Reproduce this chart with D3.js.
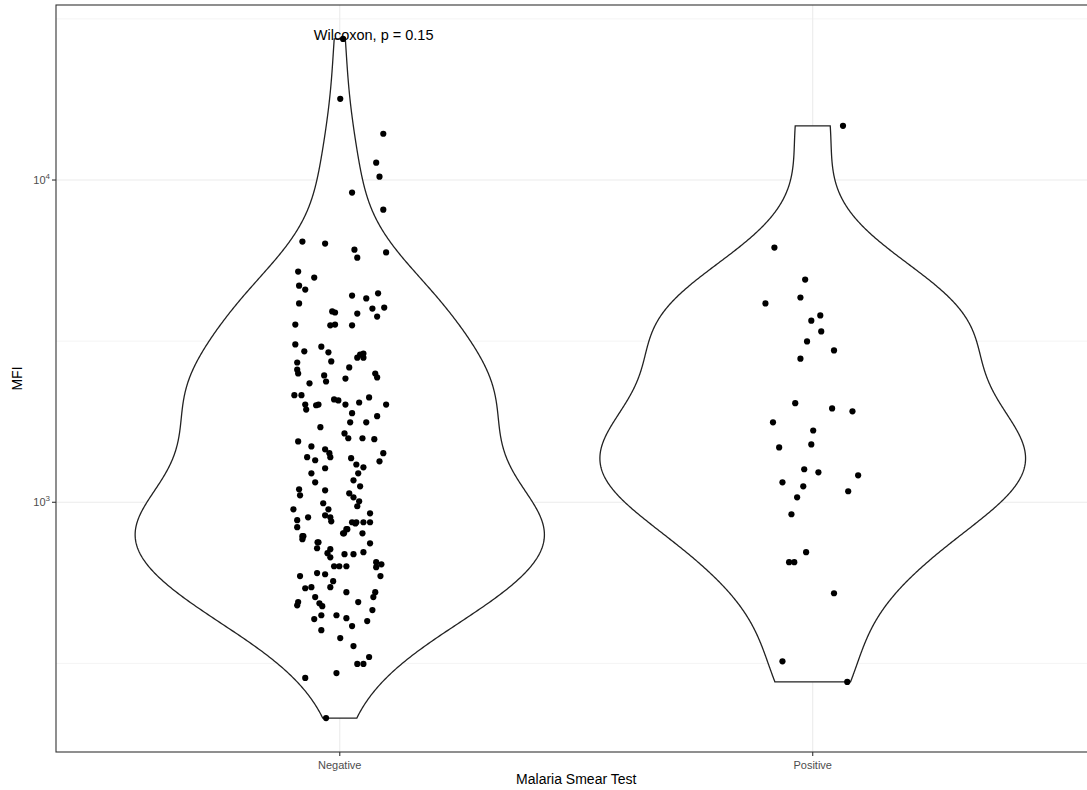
<!DOCTYPE html>
<html>
<head>
<meta charset="utf-8">
<script src="https://cdn.jsdelivr.net/npm/d3@7/dist/d3.min.js"></script>
<style>
  body { margin: 0; background: #fff; }
  svg text { font-family: "Liberation Sans", Arial, Helvetica, sans-serif; }
</style>
</head>
<body>
<svg id="chart" width="1087" height="790"></svg>
<script>
const groups = ["Negative", "Positive"];

// MFI; jitter is the horizontal offset in category units
// (the last few negatives sit on top of other dots in the dense 750-870 band)
const negativeMFI = [27400, 17860, 13920, 11320, 10240, 9140, 8090, 6440, 6350, 6080, 5740, 5960,
  5200, 4980, 4700, 4570, 4380, 4290, 4450, 4140, 3910, 3880, 3850, 3990, 4020, 3770, 3560, 3540,
  3560, 3540, 3090, 2940, 3040, 2920, 2735, 2715, 2580, 2510, 2810, 2870, 2895, 2810, 2620, 2475,
  2370, 2420, 2510, 2440, 2340, 2150, 2150, 2010, 1940, 2000, 2010, 2085, 2070, 2010, 2040, 2115,
  2010, 1890, 1850, 1770, 1770, 1710, 1636, 1580, 1580, 1570, 1545, 1490, 1460, 1420, 1380, 1380,
  1350, 1370, 1420, 1340, 1310, 1284, 1275, 1230, 1230, 1170, 1153, 1121, 1097, 1051, 1089, 1066,
  1036, 1007, 972, 993, 951, 951, 911, 898, 873, 898, 880, 837, 924, 867, 867, 867, 867, 825, 801,
  801, 785, 768, 746, 751, 720, 715, 695, 675, 690, 690, 700, 633, 633, 633, 652, 642, 629, 590,
  590, 603, 598, 569, 545, 541, 545, 526, 526, 508, 508, 486, 476, 490, 479, 490, 463, 446, 446,
  437, 434, 413, 428, 401, 379, 358, 331, 315, 315, 295, 285, 214,
  860, 801, 785, 751, 825];
const negativeJitter = [0.007, 0.001, 0.092, 0.077, 0.084, 0.026, 0.092, -0.079, -0.031, 0.031, 0.037, 0.098,
  -0.088, -0.054, -0.086, -0.073, 0.026, 0.056, 0.081, -0.086, -0.016, -0.010, 0.037, 0.069, 0.094, 0.079, -0.094, -0.020,
  -0.010, 0.026, -0.094, -0.075, -0.039, -0.024, -0.018, -0.090, -0.090, -0.088, 0.037, 0.043, 0.050, 0.050, 0.020, -0.033,
  -0.029, 0.012, 0.075, 0.079, -0.064, -0.096, -0.081, -0.073, -0.071, -0.050, -0.045, -0.012, -0.003, 0.012, 0.041, 0.062,
  0.098, 0.026, 0.079, 0.022, 0.056, -0.041, 0.010, 0.018, 0.048, 0.073, -0.088, -0.060, -0.031, -0.022, -0.020, -0.069,
  -0.052, 0.024, 0.092, 0.084, 0.035, 0.050, -0.031, 0.039, -0.060, 0.029, -0.052, 0.043, -0.086, -0.084, -0.031, 0.020,
  0.029, 0.041, 0.037, -0.035, -0.024, -0.098, -0.031, -0.020, -0.018, -0.067, -0.090, -0.090, 0.064, 0.026, 0.035, 0.050, 0.064, 0.014, 0.007,
  0.048, -0.079, -0.079, 0.064, -0.045, -0.048, -0.020, -0.026, -0.020, 0.010, 0.029, 0.050, -0.012, -0.001, 0.014, 0.077, 0.088, 0.077, 0.086,
  -0.084, -0.048, -0.031, -0.014, -0.020, -0.073, -0.060, 0.014, 0.075, 0.071, -0.052, -0.043, -0.037, -0.088, -0.090, 0.039, 0.069, -0.007, -0.039,
  0.014, -0.054, 0.026, 0.058, -0.039, 0.001, 0.029, 0.062, 0.037, 0.050, -0.007, -0.073, -0.029,
  0.033, 0.009, -0.077, -0.047, 0.016];

const positiveMFI = [14730, 6170, 4910, 4320, 4140, 3800, 3660, 3390, 3155, 2960, 2790, 2030, 1955,
  1915, 1770, 1670, 1480, 1512, 1266, 1239, 1212, 1153, 1121, 1082, 1036, 918, 700, 652, 652, 522, 321, 277];
const positiveJitter = [0.064, -0.081, -0.016, -0.026, -0.100, 0.016, -0.003, 0.018, -0.012, 0.045, -0.026, -0.037, 0.041,
  0.084, -0.084, 0.001, -0.071, -0.003, -0.018, 0.012, 0.096, -0.064, -0.020, 0.075, -0.033, -0.045, -0.014, -0.050, -0.039, 0.045, -0.064, 0.073];

const yMajorTicks = [3, 4];          // powers of ten
const yMinorTicks = [2.5, 3.5, 4.5];
const xTitle = "Malaria Smear Test";
const yTitle = "MFI";
const testLabel = "Wilcoxon, p = 0.15";

const width = 1087, height = 790;
const panel = { left: 56, top: 5, right: 1096.5, bottom: 752 };

const series = [
  { group: "Negative", values: negativeMFI, jitter: negativeJitter },
  { group: "Positive", values: positiveMFI, jitter: positiveJitter }
];

const svg = d3.select("#chart");

const x = d3.scalePoint()
  .domain(groups)
  .range([panel.left, panel.right])
  .padding(0.6);
const step = x.step();

// log scale with ggplot-like 5% expansion on the log range
const allLog = series.flatMap(s => s.values.map(v => Math.log10(v)));
const [lmin, lmax] = d3.extent(allLog);
const pad = (lmax - lmin) * 0.05;
const y = d3.scaleLog()
  .domain([10 ** (lmin - pad), 10 ** (lmax + pad)])
  .range([panel.bottom, panel.top]);

// Gaussian KDE on log10 values, bw.nrd0, trimmed to data range
function nrd0(arr) {
  const s = arr.slice().sort(d3.ascending);
  const sd = d3.deviation(s);
  const iqr = d3.quantileSorted(s, 0.75) - d3.quantileSorted(s, 0.25);
  let lo = Math.min(sd, iqr / 1.34);
  if (!(lo > 0)) lo = sd || Math.abs(s[0]) || 1;
  return 0.9 * lo * Math.pow(s.length, -0.2);
}
function kde(arr, n = 512) {
  const bw = nrd0(arr);
  const [a, b] = d3.extent(arr);
  const out = [];
  for (let i = 0; i < n; i++) {
    const t = a + (b - a) * i / (n - 1);
    let sum = 0;
    for (const v of arr) {
      const z = (t - v) / bw;
      sum += Math.exp(-0.5 * z * z);
    }
    out.push({ t, d: sum / (arr.length * bw * Math.sqrt(2 * Math.PI)) });
  }
  return out;
}
series.forEach(s => { s.dens = kde(s.values.map(v => Math.log10(v))); });
const maxDens = d3.max(series, s => d3.max(s.dens, p => p.d));

// grid
const grid = svg.append("g");
grid.selectAll("line.minor")
  .data(yMinorTicks)
  .join("line")
  .attr("x1", panel.left).attr("x2", panel.right)
  .attr("y1", d => y(10 ** d)).attr("y2", d => y(10 ** d))
  .attr("stroke", "#EBEBEB").attr("stroke-width", 0.6);
grid.selectAll("line.major")
  .data(yMajorTicks)
  .join("line")
  .attr("x1", panel.left).attr("x2", panel.right)
  .attr("y1", d => y(10 ** d)).attr("y2", d => y(10 ** d))
  .attr("stroke", "#EBEBEB").attr("stroke-width", 1.1);
grid.selectAll("line.xg")
  .data(groups)
  .join("line")
  .attr("x1", d => x(d)).attr("x2", d => x(d))
  .attr("y1", panel.top).attr("y2", panel.bottom)
  .attr("stroke", "#EBEBEB").attr("stroke-width", 1.1);

// violins
const halfMax = 0.45 * step;
svg.append("g")
  .selectAll("path")
  .data(series)
  .join("path")
  .attr("d", s => {
    const cx = x(s.group);
    const left = s.dens.map(p => [cx - halfMax * p.d / maxDens, y(10 ** p.t)]);
    const right = s.dens.slice().reverse().map(p => [cx + halfMax * p.d / maxDens, y(10 ** p.t)]);
    return d3.line()(left.concat(right)) + "Z";
  })
  .attr("fill", "#fff")
  .attr("stroke", "#222")
  .attr("stroke-width", 1.3);

// jittered points
svg.append("g")
  .selectAll("g")
  .data(series)
  .join("g")
  .selectAll("circle")
  .data(s => s.values.map((v, i) => ({ group: s.group, v, j: s.jitter[i] })))
  .join("circle")
  .attr("cx", d => x(d.group) + d.j * step)
  .attr("cy", d => y(d.v))
  .attr("r", 3.1)
  .attr("fill", "#000");

// panel border
svg.append("rect")
  .attr("x", panel.left).attr("y", panel.top)
  .attr("width", panel.right - panel.left).attr("height", panel.bottom - panel.top)
  .attr("fill", "none").attr("stroke", "#333").attr("stroke-width", 1.1);

// y axis ticks and labels
const yAx = svg.append("g");
yAx.selectAll("line")
  .data(yMajorTicks)
  .join("line")
  .attr("x1", panel.left - 4).attr("x2", panel.left)
  .attr("y1", d => y(10 ** d)).attr("y2", d => y(10 ** d))
  .attr("stroke", "#333").attr("stroke-width", 1.1);
const yl = yAx.selectAll("text")
  .data(yMajorTicks)
  .join("text")
  .attr("x", panel.left - 6)
  .attr("y", d => y(10 ** d) + 4)
  .attr("text-anchor", "end")
  .attr("fill", "#4D4D4D")
  .style("font-size", "11px");
yl.append("tspan").text("10");
yl.append("tspan").attr("dy", -5).style("font-size", "8px").text(d => d);

// x axis
const xAx = svg.append("g");
xAx.selectAll("line")
  .data(groups)
  .join("line")
  .attr("x1", d => x(d)).attr("x2", d => x(d))
  .attr("y1", panel.bottom).attr("y2", panel.bottom + 4)
  .attr("stroke", "#333").attr("stroke-width", 1.1);
xAx.selectAll("text")
  .data(groups)
  .join("text")
  .attr("x", d => x(d))
  .attr("y", panel.bottom + 17)
  .attr("text-anchor", "middle")
  .attr("fill", "#4D4D4D")
  .style("font-size", "11px")
  .text(d => d);

// titles
svg.append("text")
  .attr("x", (panel.left + panel.right) / 2)
  .attr("y", 784)
  .attr("text-anchor", "middle")
  .style("font-size", "14px")
  .text(xTitle);
svg.append("text")
  .attr("transform", `translate(22,${(panel.top + panel.bottom) / 2}) rotate(-90)`)
  .attr("text-anchor", "middle")
  .style("font-size", "14px")
  .text(yTitle);

// test annotation at the top of the data
svg.append("text")
  .attr("x", x("Negative") - 26)
  .attr("y", y(d3.max(allLog.map(v => 10 ** v))) + 1)
  .attr("text-anchor", "start")
  .style("font-size", "14.5px")
  .text(testLabel);
</script>
</body>
</html>
